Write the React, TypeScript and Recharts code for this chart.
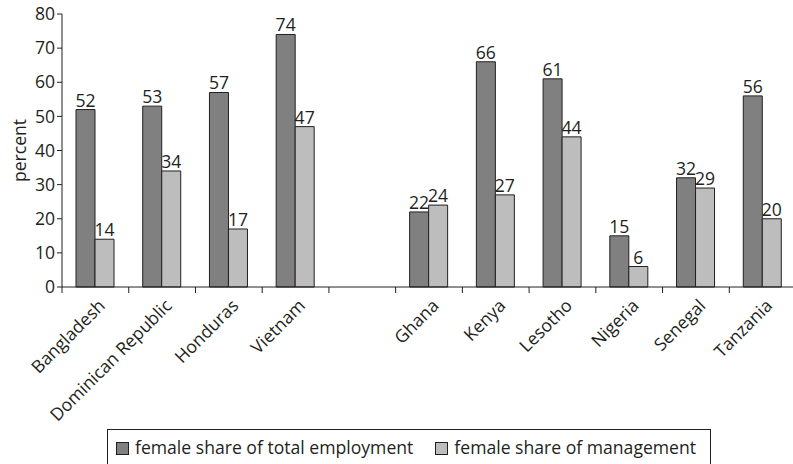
import React from "react";
import { BarChart, Bar, XAxis, YAxis, Legend, LabelList } from "recharts";

const categories = ["Bangladesh", "Dominican Republic", "Honduras", "Vietnam", " ", "Ghana", "Kenya", "Lesotho", "Nigeria", "Senegal", "Tanzania"];
const employment = [52, 53, 57, 74, null, 22, 66, 61, 15, 32, 56];
const management = [14, 34, 17, 47, null, 24, 27, 44, 6, 29, 20];
const yTicks = [0, 10, 20, 30, 40, 50, 60, 70, 80];

const data = categories.map((c, i) => ({ name: c, emp: employment[i], mgmt: management[i] }));

const FONT = "'Open Sans', sans-serif";
const FS = 17.6;
const DARK = "#808080";
const LIGHT = "#bdbdbd";
const TEXT = "#231f20";

const XTick = (props: any) => {
  const { x, y, payload } = props;
  const half = 33.35;
  return (
    <g>
      <line x1={x - half} y1={y - 8} x2={x - half} y2={y - 2} stroke={TEXT} strokeWidth={1} />
      <text
        transform={`translate(${x + 2},${y + 3}) rotate(-45)`}
        textAnchor="end"
        dy="0.71em"
        fontSize={FS}
        fontFamily={FONT}
        fill={TEXT}
      >
        {payload.value}
      </text>
    </g>
  );
};

const LegendContent = () => (
  <div
    style={{
      border: `1px solid ${TEXT}`,
      height: 40,
      boxSizing: "border-box",
      display: "flex",
      alignItems: "flex-start",
      paddingTop: 5,
      paddingLeft: 8,
      fontFamily: FONT,
      fontSize: FS,
      color: TEXT,
      whiteSpace: "nowrap",
    }}
  >
    <span style={{ display: "inline-block", width: 11, height: 11, background: DARK, border: `1px solid ${TEXT}`, marginTop: 7, marginRight: 6 }} />
    <span>female share of total employment</span>
    <span style={{ display: "inline-block", width: 11, height: 11, background: LIGHT, border: `1px solid ${TEXT}`, marginTop: 7, marginLeft: 22, marginRight: 6 }} />
    <span>female share of management</span>
  </div>
);

export default function App() {
  return (
    <div style={{ position: "absolute", left: 0, top: 0 }}>
      <BarChart
        width={800}
        height={464}
        data={data}
        margin={{ top: 14, right: 4, left: 0, bottom: 0 }}
        barGap={0}
        barSize={19}
      >
        <XAxis
          dataKey="name"
          interval={0}
          height={137}
          tickLine={false}
          axisLine={{ stroke: TEXT }}
          tick={<XTick />}
        />
        <YAxis
          width={62}
          domain={[0, 80]}
          ticks={yTicks}
          interval={0}
          axisLine={{ stroke: TEXT }}
          tickLine={{ stroke: TEXT }}
          tickSize={5}
          tick={{ fontSize: FS, fontFamily: FONT, fill: TEXT }}
          label={{ value: "percent", angle: -90, position: "insideLeft", offset: 20, style: { fontSize: FS, fontFamily: FONT, fill: TEXT, textAnchor: "middle" } }}
        />
        <Legend
          verticalAlign="bottom"
          content={<LegendContent />}
          wrapperStyle={{ left: 107, width: 604, top: 429, height: 40 }}
        />
        <Bar dataKey="emp" fill={DARK} stroke={TEXT} strokeWidth={1} isAnimationActive={false}>
          <LabelList dataKey="emp" position="top" offset={3} style={{ fontSize: FS, fontFamily: FONT, fill: TEXT }} />
        </Bar>
        <Bar dataKey="mgmt" fill={LIGHT} stroke={TEXT} strokeWidth={1} isAnimationActive={false}>
          <LabelList dataKey="mgmt" position="top" offset={3} style={{ fontSize: FS, fontFamily: FONT, fill: TEXT }} />
        </Bar>
      </BarChart>
    </div>
  );
}
